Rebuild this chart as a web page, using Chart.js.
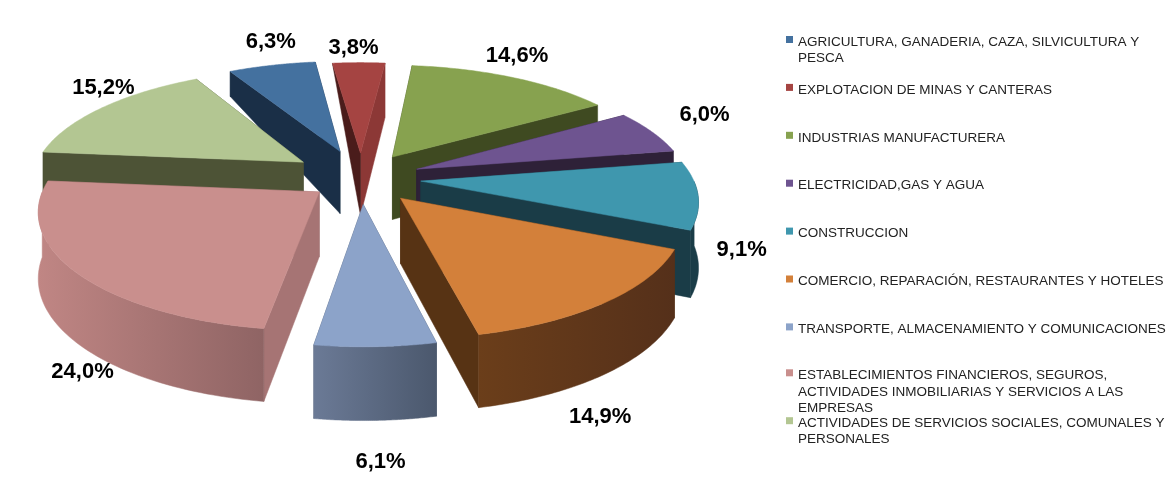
<!DOCTYPE html>
<html>
<head>
<meta charset="utf-8">
<title>Participación por rama de actividad</title>
<script src="https://cdn.jsdelivr.net/npm/chart.js@4/dist/chart.umd.js"></script>
<style>
    html, body { margin: 0; padding: 0; background: #fff; }
    #wrap { width: 1176px; height: 498px; }
</style>
</head>
<body>
<div id="wrap"><canvas id="pie"></canvas></div>
<script>
// Data
const categories = [
    ['AGRICULTURA, GANADERIA, CAZA, SILVICULTURA Y', 'PESCA'],
    ['EXPLOTACION DE MINAS Y CANTERAS'],
    ['INDUSTRIAS MANUFACTURERA'],
    ['ELECTRICIDAD,GAS Y AGUA'],
    ['CONSTRUCCION'],
    ['COMERCIO, REPARACIÓN, RESTAURANTES Y HOTELES'],
    ['TRANSPORTE, ALMACENAMIENTO Y COMUNICACIONES'],
    ['ESTABLECIMIENTOS FINANCIEROS, SEGUROS,', 'ACTIVIDADES INMOBILIARIAS Y SERVICIOS A LAS', 'EMPRESAS'],
    ['ACTIVIDADES DE SERVICIOS SOCIALES, COMUNALES Y', 'PERSONALES']
];
const shares = [6.3, 3.8, 14.6, 6.0, 9.1, 14.9, 6.1, 24.0, 15.2];

// Slice colours
const topColors = ['#44719F', '#A54442', '#87A24F', '#6E5490', '#3F97AE', '#D3803A', '#8CA3C9', '#C98F8D', '#B3C692'];
const startWallColors = ['#1A2F47', '#4A1C1B', '#3F4A21', '#2E2138', '#1A3C47', '#573314', '#4B586D', '#A67474', '#4D5336'];
const endWallColors = ['#1A2F47', '#8C3836', '#3F4A21', '#2E2138', '#1A3C47', '#573314', '#4B586D', '#8F6464', '#4D5336'];
const outerLeftColors = ['#1A2F47', '#4A1C1B', '#3F4A21', '#2E2138', '#1A3C47', '#6B3E1A', '#6B7A96', '#C08684', '#4D5336'];
const outerRightColors = ['#1A2F47', '#4A1C1B', '#3F4A21', '#2E2138', '#1A3C47', '#55301A', '#4B586D', '#8F6464', '#4D5336'];

// How far each slice is pulled out of the pie
const sliceOffsets = [68, 60, 60, 60, 60, 60, 60, 52, 70];

// How far the rim end of the start wall drops (the back slices taper)
const startWallDrops = [0.45, 0, 1, 1, 1, 1, 1, 1, 1];

// Nudge of each value label from its spot beyond the slice rim
const labelShifts = [[5, -15], [-5, -4], [-9, -12], [20, -12], [2, -13], [-38, 25], [3, 16], [53, 13], [20, -14]];

// Tilt of the fake 3D view
const tilt = 0.428;
const perspective = 0.154;
const depth = 64;

function formatShare(v) {
    return v.toFixed(1).replace('.', ',') + '%';
}

// Project a point of the flat pie onto the tilted plane; low = 1 is the bottom face
function project(arc, X, Y, low) {
    const u = Y / arc.outerRadius;
    const s = 1 + perspective * u;
    const z = (low || 0) * depth * (1 + 0.125 * u);
    return { x: arc.x + X * s, y: arc.y + tilt * Y * s + z };
}

function slicePoint(arc, offset, angle, radius) {
    const mid = (arc.startAngle + arc.endAngle) / 2;
    return {
        X: offset * Math.cos(mid) + radius * Math.cos(angle),
        Y: offset * Math.sin(mid) + radius * Math.sin(angle)
    };
}

function fillPoly(ctx, points, fill) {
    ctx.beginPath();
    points.forEach((p, i) => i ? ctx.lineTo(p.x, p.y) : ctx.moveTo(p.x, p.y));
    ctx.closePath();
    ctx.fillStyle = fill;
    ctx.fill();
    ctx.strokeStyle = fill;
    ctx.lineWidth = 0.5;
    ctx.stroke();
}

// Draws the arcs back to front, each with its walls and top
const tiltedPie = {
    id: 'tiltedPie',
    beforeDatasetsDraw(chart) {
        const ctx = chart.ctx;
        const meta = chart.getDatasetMeta(0);
        const order = meta.data.map((arc, i) => {
            const mid = (arc.startAngle + arc.endAngle) / 2;
            return { i, arc, back: Math.sin(mid) };
        }).sort((a, b) => a.back - b.back);

        ctx.save();
        order.forEach(({ i, arc }) => {
            const offset = sliceOffsets[i];
            const apexFlat = slicePoint(arc, offset, 0, 0);
            const apex = project(arc, apexFlat.X, apexFlat.Y);
            const apexLow = project(arc, apexFlat.X, apexFlat.Y, 1);
            const rimTop = [];
            const frontTop = [];
            const frontLow = [];
            const steps = 64;
            let startLow, endLow;
            for (let k = 0; k <= steps; k++) {
                const a = arc.startAngle + (arc.endAngle - arc.startAngle) * k / steps;
                const p = slicePoint(arc, offset, a, arc.outerRadius);
                rimTop.push(project(arc, p.X, p.Y));
                if (k === 0) startLow = project(arc, p.X, p.Y, startWallDrops[i]);
                if (k === steps) endLow = project(arc, p.X, p.Y, 1);
                if (Math.sin(a) > 0) {
                    frontTop.push(project(arc, p.X, p.Y));
                    frontLow.push(project(arc, p.X, p.Y, 1));
                }
            }

            // radial walls, the one further back goes first
            const startWall = [[apex, rimTop[0], startLow, apexLow], startWallColors[i]];
            const endWall = [[apex, rimTop[steps], endLow, apexLow], endWallColors[i]];
            const walls = rimTop[0].y < rimTop[steps].y ? [startWall, endWall] : [endWall, startWall];
            walls.forEach(w => fillPoly(ctx, w[0], w[1]));

            // outer wall, only the part that faces the viewer
            if (frontTop.length) {
                const xs = frontTop.map(p => p.x);
                const grad = ctx.createLinearGradient(Math.min(...xs), 0, Math.max(...xs), 0);
                grad.addColorStop(0, outerLeftColors[i]);
                grad.addColorStop(1, outerRightColors[i]);
                fillPoly(ctx, frontTop.concat(frontLow.reverse()), grad);
            }

            // top face
            fillPoly(ctx, [apex].concat(rimTop), topColors[i]);
        });
        ctx.restore();
        return false;
    },
    afterDraw(chart) {
        const ctx = chart.ctx;
        const meta = chart.getDatasetMeta(0);
        ctx.save();
        ctx.font = 'bold 22px "Liberation Sans"';
        ctx.fillStyle = '#000';
        ctx.textAlign = 'center';
        ctx.textBaseline = 'middle';
        meta.data.forEach((arc, i) => {
            const mid = (arc.startAngle + arc.endAngle) / 2;
            const p = slicePoint(arc, 60, mid, arc.outerRadius + 40);
            const q = project(arc, p.X, p.Y, Math.sin(mid) > 0 ? 1 : 0);
            ctx.fillText(formatShare(shares[i]), q.x + labelShifts[i][0], q.y + labelShifts[i][1]);
        });
        ctx.restore();
    }
};

// Legend down the right side, drawn on the chart canvas
const sideLegend = {
    id: 'sideLegend',
    afterDraw(chart) {
        const ctx = chart.ctx;
        const step = 47.9;
        ctx.save();
        ctx.textBaseline = 'middle';
        ctx.textAlign = 'left';
        categories.forEach((lines, i) => {
            const y = 40 + i * step - (i >= 7 ? 2 : 0);
            ctx.fillStyle = topColors[i];
            ctx.fillRect(786, y - 4, 7, 7);
            ctx.fillStyle = '#222';
            ctx.font = '13.5px "Liberation Sans"';
            lines.forEach((line, n) => {
                ctx.fillText(line, 798, y + 2 + n * 16.5);
            });
        });
        ctx.restore();
    }
};

new Chart(document.getElementById('pie'), {
    type: 'pie',
    data: {
        labels: categories.map(c => c.join(' ')),
        datasets: [{
            data: shares,
            backgroundColor: topColors,
            borderWidth: 0,
            offset: sliceOffsets
        }]
    },
    options: {
        responsive: true,
        maintainAspectRatio: false,
        animation: false,
        rotation: -30,
        radius: 272,
        layout: { padding: { right: 454, bottom: 142 } },
        plugins: {
            legend: { display: false },
            tooltip: { enabled: false }
        }
    },
    plugins: [tiltedPie, sideLegend]
});
</script>
</body>
</html>
